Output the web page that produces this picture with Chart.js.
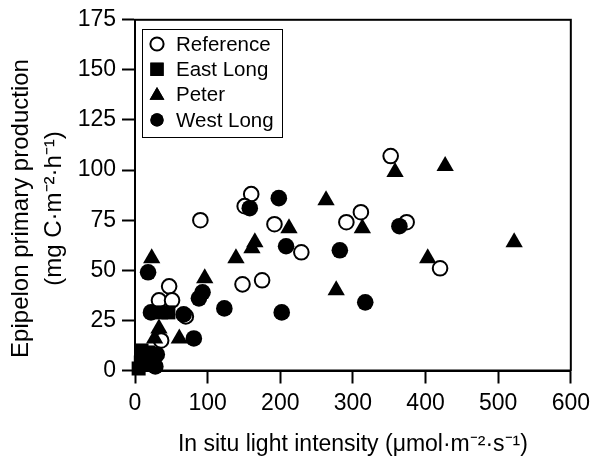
<!DOCTYPE html>
<html>
<head>
<meta charset="utf-8">
<script src="https://cdn.jsdelivr.net/npm/chart.js@4.4.1/dist/chart.umd.min.js"></script>
<style>
  html, body { margin: 0; padding: 0; background: #fff; }
</style>
</head>
<body>
<canvas id="scatterChart" width="596" height="458"></canvas>
<script>
// Epipelon production vs in situ light, four lakes
const xTicks = [0, 100, 200, 300, 400, 500, 600];
const yTicks = [0, 25, 50, 75, 100, 125, 150, 175];

const seriesNames = ['Reference', 'East Long', 'Peter', 'West Long'];

const referenceX = [160, 151, 90, 192, 291, 311, 352, 374, 420, 229, 148, 175, 47, 33, 51, 70, 36];
const referenceY = [88, 82, 75, 73, 74, 79, 107, 74, 51, 59, 43, 45, 42, 35, 35, 27, 15];

const eastLongX = [9, 8, 16, 18, 5, 36, 46];
const eastLongY = [10, 4, 3, 9, 1, 29, 29];

const peterX = [23, 33, 27, 61, 96, 139, 161, 165, 212, 263, 277, 313, 358, 403, 427, 522];
const peterY = [56, 21, 16, 16, 46, 56, 61, 64, 71, 85, 40, 71, 99, 56, 102, 64];

const westLongX = [18, 22, 67, 81, 88, 93, 123, 158, 198, 202, 208, 282, 317, 364, 30, 28];
const westLongY = [49, 29, 28, 16, 36, 39, 31, 81, 86, 29, 62, 60, 34, 72, 8, 2];

const FONT = '"Liberation Sans", Arial, Helvetica, sans-serif';
// trailing no-break spaces push the rotated title a bit lower, like the original
const PAD = '\u00a0\u00a0\u00a0\u00a0';

function toPoints(xs, ys) {
  return xs.map((x, i) => ({ x: x, y: ys[i] }));
}

// box round the plot area (top and right sides)
const framePlugin = {
  id: 'frame',
  beforeDatasetsDraw(chart) {
    const { ctx, chartArea: a } = chart;
    ctx.save();
    ctx.strokeStyle = '#000';
    ctx.lineWidth = 2;
    ctx.strokeRect(a.left, a.top, a.right - a.left, a.bottom - a.top);
    ctx.restore();
  }
};

// legend box inside the plot, drawn with the datasets' own point styles
const legendBoxPlugin = {
  id: 'legendBox',
  afterDraw(chart) {
    const ctx = chart.ctx;
    const box = { x: 142, y: 29, w: 140, h: 108 };
    ctx.save();
    ctx.strokeStyle = '#000';
    ctx.lineWidth = 1;
    ctx.strokeRect(box.x + 0.5, box.y + 0.5, box.w, box.h);
    ctx.font = '20.5px ' + FONT;
    ctx.textBaseline = 'middle';
    ctx.fillStyle = '#000';
    chart.data.datasets.forEach((ds, i) => {
      const cy = 44 + i * 25.3;
      const r = ds.pointStyle === 'triangle' ? 8.5 : (ds.pointStyle === 'rect' ? 9.4 : 6.6);
      Chart.helpers.drawPoint(ctx, {
        pointStyle: ds.pointStyle,
        radius: r,
        borderWidth: ds.pointBorderWidth
      }, 157, cy + (ds.pointStyle === 'triangle' ? 1 : 0));
      ctx.fillStyle = ds.pointBackgroundColor;
      ctx.strokeStyle = '#000';
      ctx.lineWidth = ds.pointBorderWidth;
      ctx.fill();
      if (ds.pointBorderWidth > 0) ctx.stroke();
      ctx.fillStyle = '#000';
      ctx.fillText(ds.label, 176, cy + 1);
    });
    ctx.restore();
  }
};

function makeDataset(label, xs, ys, style, radius, fill, border, order) {
  return {
    label: label,
    data: toPoints(xs, ys),
    pointStyle: style,
    pointRadius: radius,
    pointHoverRadius: radius,
    pointBackgroundColor: fill,
    pointBorderColor: '#000',
    pointBorderWidth: border,
    showLine: false,
    clip: false,
    order: order
  };
}

const ctx = document.getElementById('scatterChart').getContext('2d');
const chart = new Chart(ctx, {
  type: 'scatter',
  data: {
    datasets: [
      makeDataset(seriesNames[0], referenceX, referenceY, 'circle', 7.3, '#fff', 2, 4),
      makeDataset(seriesNames[1], eastLongX, eastLongY, 'rect', 9.9, '#000', 0, 3),
      makeDataset(seriesNames[2], peterX, peterY, 'triangle', 10, '#000', 0, 2),
      makeDataset(seriesNames[3], westLongX, westLongY, 'circle', 8.3, '#000', 0, 1)
    ]
  },
  options: {
    responsive: false,
    animation: false,
    events: [],
    layout: { padding: { top: 16, right: 24.5, bottom: 0, left: 0 } },
    plugins: {
      legend: { display: false },
      tooltip: { enabled: false }
    },
    scales: {
      x: {
        type: 'linear',
        min: xTicks[0],
        max: xTicks[xTicks.length - 1],
        afterBuildTicks: s => { s.ticks = xTicks.map(v => ({ value: v })); },
        afterFit: s => { s.height = 87.5; },
        grid: { display: true, drawOnChartArea: false, drawTicks: true, tickLength: 13, tickWidth: 2, tickColor: '#000', color: '#000' },
        border: { display: true, color: '#000', width: 2 },
        ticks: { color: '#000', padding: 6, maxRotation: 0, font: { family: FONT, size: 23 } },
        title: {
          display: true,
          text: 'In situ light intensity (\u03bcmol\u00b7m\u207b\u00b2\u00b7s\u207b\u00b9)',
          color: '#000',
          padding: { top: 0, bottom: 0 },
          font: { family: FONT, size: 23, lineHeight: 1.2 }
        }
      },
      y: {
        type: 'linear',
        min: yTicks[0],
        max: yTicks[yTicks.length - 1],
        afterBuildTicks: s => { s.ticks = yTicks.map(v => ({ value: v })); },
        afterFit: s => { s.width = 135; },
        grid: { display: true, drawOnChartArea: false, drawTicks: true, tickLength: 13, tickWidth: 2, tickColor: '#000', color: '#000' },
        border: { display: true, color: '#000', width: 2 },
        ticks: { color: '#000', padding: 6, font: { family: FONT, size: 23 } },
        title: {
          display: true,
          text: ['Epipelon primary production' + PAD, '(mg C\u00b7m\u207b\u00b2\u00b7h\u207b\u00b9)' + PAD],
          color: '#000',
          padding: { top: 5, bottom: 0 },
          font: { family: FONT, size: 24, lineHeight: 1.375 }
        }
      }
    }
  },
  plugins: [framePlugin, legendBoxPlugin]
});
</script>
</body>
</html>
